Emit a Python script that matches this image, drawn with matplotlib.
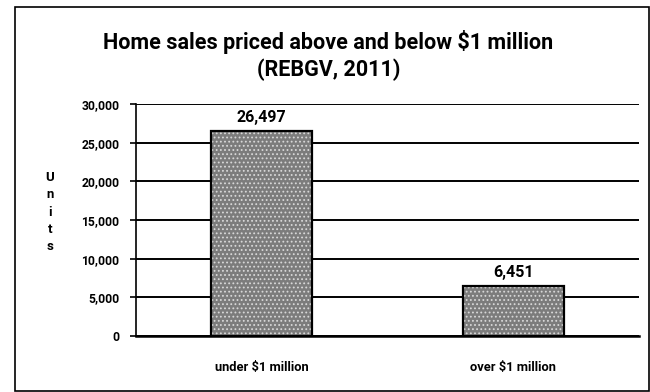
import matplotlib.pyplot as plt
from matplotlib.patches import Rectangle

categories = ["under $1 million", "over $1 million"]
units = [26497, 6451]
value_labels = ["26,497", "6,451"]
yticks = [0, 5000, 10000, 15000, 20000, 25000, 30000]
ytick_labels = ["0", "5,000", "10,000", "15,000", "20,000", "25,000", "30,000"]

plt.rcParams["font.family"] = ["Roboto", "DejaVu Sans"]
plt.rcParams["hatch.linewidth"] = 0.8

W, H = 650, 392
fig = plt.figure(figsize=(W / 100, H / 100), dpi=100)

# outer chart border
fig.patches.append(Rectangle((15 / W, 0.002), 1 - 15 / W - 0.002, 1 - 7 / H - 0.002,
                             transform=fig.transFigure, fill=False,
                             edgecolor="black", linewidth=1.2))

ax = fig.add_axes([136 / W, 1 - 336 / H, (639 - 136) / W, (336 - 104) / H])
x = range(len(categories))

# textured gray fill, then black outline
ax.bar(x, units, width=0.4, color="#7c7c7c", edgecolor="#d8d8d8",
       hatch="....", linewidth=0, zorder=3)
ax.bar(x, units, width=0.4, fill=False, edgecolor="black", linewidth=1.6, zorder=4)

for i, (v, lab) in enumerate(zip(units, value_labels)):
    ax.text(i, v + 800, lab, ha="center", va="bottom",
            fontsize=11.5, fontweight="bold")

ax.set_xlim(-0.5, 1.5)
ax.set_ylim(0, 30000)
ax.set_yticks(yticks)
ax.set_yticklabels(ytick_labels, fontsize=8.7, fontweight="bold")
ax.set_xticks(list(x))
ax.set_xticklabels(categories, fontsize=9.3, fontweight="bold")
ax.tick_params(axis="x", length=0, pad=18)
ax.tick_params(axis="y", length=4, width=1.2, pad=8)

ax.yaxis.grid(True, color="black", linewidth=1.4)
ax.set_axisbelow(True)
for side in ["top", "right"]:
    ax.spines[side].set_visible(False)
ax.spines["left"].set_linewidth(1.2)
ax.spines["bottom"].set_linewidth(1.8)

ax.set_ylabel("U\nn\ni\nt\ns", rotation=0, fontsize=9.5, fontweight="bold",
              linespacing=1.42, va="center", ha="center")
ax.yaxis.set_label_coords(-0.171, 0.534)

fig.text(0.505, 1 - 42 / H, "Home sales priced above and below $1 million",
         ha="center", va="center", fontsize=15.5, fontweight="bold")
fig.text(0.505, 1 - 70 / H, "(REBGV, 2011)",
         ha="center", va="center", fontsize=15.5, fontweight="bold")

fig.savefig("out.png", dpi=100)
